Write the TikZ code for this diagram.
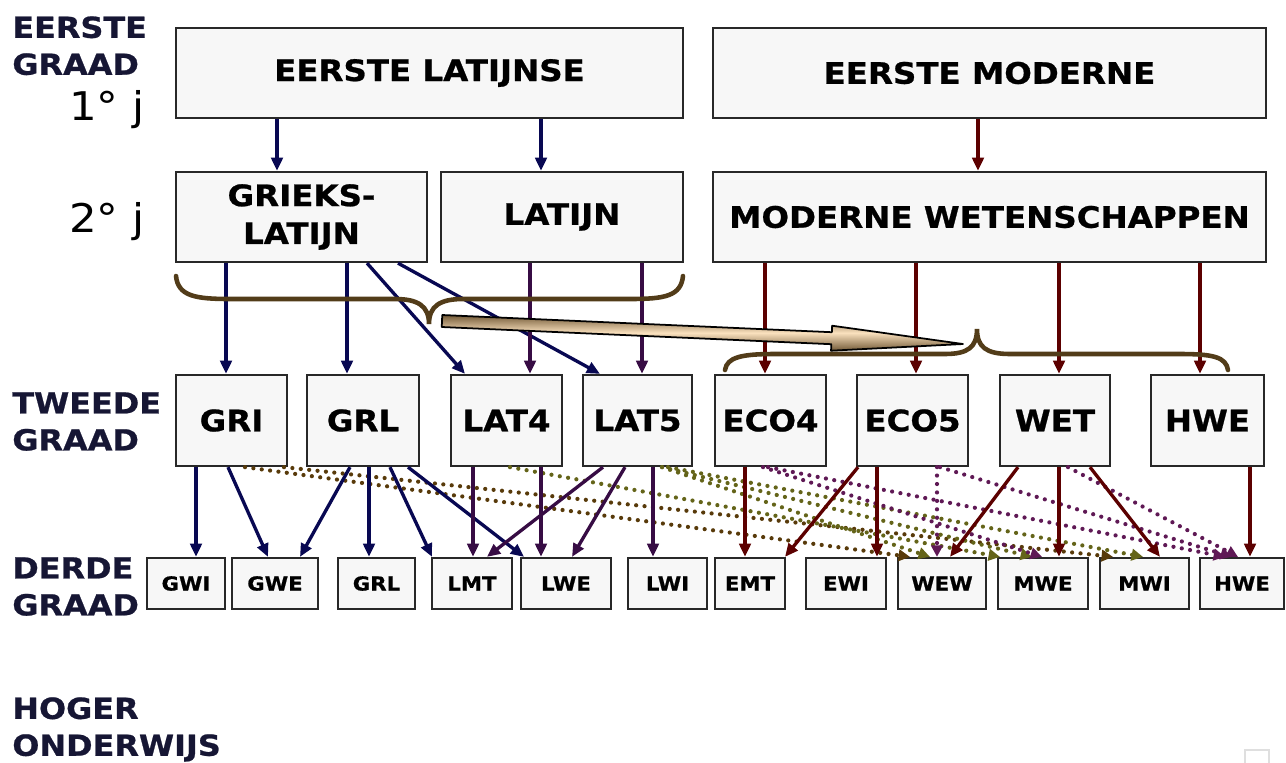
\documentclass[tikz,border=0pt]{standalone}
\usepackage{fontspec}
\setmainfont{DejaVu Sans}[FakeStretch=1.1, BoldFeatures={FakeBold=0.8}]
\usetikzlibrary{arrows.meta}

\definecolor{boxfill}{RGB}{247,247,247}
\definecolor{boxline}{RGB}{40,40,40}
\definecolor{labelblue}{RGB}{22,22,52}
\definecolor{latblue}{RGB}{8,8,82}
\definecolor{latpurple}{RGB}{55,12,68}
\definecolor{modred}{RGB}{92,0,0}
\definecolor{bracebrown}{RGB}{82,60,25}
\definecolor{dotbrown}{RGB}{88,58,10}
\definecolor{dotolive}{RGB}{100,100,25}
\definecolor{dotpurple}{RGB}{95,25,85}
\definecolor{arrowdark}{RGB}{115,90,55}
\definecolor{arrowlight}{RGB}{250,225,190}

\begin{document}
\begin{tikzpicture}
        [x=0.02cm, y=-0.02cm,
        box/.style={draw=boxline, fill=boxfill, line width=1.3pt, inner sep=0pt, align=center,
                font=\bfseries\fontsize{16.8}{21.5}\selectfont},
        big/.style={box, minimum height=1.8cm},
        vak/.style={box, minimum height=1.82cm},
        small/.style={box, minimum height=1.02cm, font=\bfseries\fontsize{11}{13}\selectfont},
        graad/.style={anchor=north west, inner sep=0pt, align=left, text=labelblue,
                font=\bfseries\fontsize{16.5}{21}\selectfont},
        jaar/.style={anchor=base east, inner sep=0pt, font=\fontsize{22.5}{26}\selectfont},
        link/.style={line width=1.9pt, -{Triangle[length=7.5pt,width=6.5pt]}},
        latin/.style={link, latblue},
        latijn/.style={link, latpurple},
        modern/.style={link, modred},
        switch/.style={line width=2.4pt, line cap=round, dash pattern=on 0pt off 4.8pt,
                -{Triangle[length=6.5pt,width=6.5pt]}},
        brace/.style={bracebrown, line width=2.6pt, line cap=round}]

        \useasboundingbox (0,0) rectangle (1286,762);

        % labels on the left
        \node[graad] (eg) at (12,16) {EERSTE\\GRAAD};
        \node[jaar] (j1) at (145,120) {1° j};
        \node[jaar] (j2) at (145,232) {2° j};
        \node[graad] (tg) at (12,392) {TWEEDE\\GRAAD};
        \node[graad] (dg) at (12,557) {DERDE\\GRAAD};
        \node[graad] (ho) at (12,697) {HOGER\\ONDERWIJS};

        % eerste graad
        \node[big, minimum width=10.14cm] (elat) at (429.5,73) {EERSTE LATIJNSE};
        \node[big, minimum width=11.06cm] (emod) at (989.5,73) {EERSTE MODERNE};
        \node[big, minimum width=5.02cm] (grlat) at (301.5,217) {GRIEKS-\\LATIJN};
        \node[big, minimum width=4.84cm] (lat) at (562,217) {LATIJN};
        \node[big, minimum width=11.06cm] (modw) at (989.5,217) {MODERNE WETENSCHAPPEN};

        % tweede graad
        \node[vak, minimum width=2.22cm] (gri) at (231.5,420.5) {GRI};
        \node[vak, minimum width=2.24cm] (grl) at (363,420.5) {GRL};
        \node[vak, minimum width=2.22cm] (lat4) at (506.5,420.5) {LAT4};
        \node[vak, minimum width=2.18cm] (lat5) at (637.5,420.5) {LAT5};
        \node[vak, minimum width=2.22cm] (eco4) at (770.5,420.5) {ECO4};
        \node[vak, minimum width=2.22cm] (eco5) at (912.5,420.5) {ECO5};
        \node[vak, minimum width=2.2cm] (wet) at (1055,420.5) {WET};
        \node[vak, minimum width=2.26cm] (hwe) at (1207.5,420.5) {HWE};

        % derde graad
        \node[small, minimum width=1.56cm] (gwi3) at (186,583.5) {GWI};
        \node[small, minimum width=1.72cm] (gwe3) at (275,583.5) {GWE};
        \node[small, minimum width=1.54cm] (grl3) at (376.5,583.5) {GRL};
        \node[small, minimum width=1.6cm] (lmt3) at (472,583.5) {LMT};
        \node[small, minimum width=1.8cm] (lwe3) at (566,583.5) {LWE};
        \node[small, minimum width=1.58cm] (lwi3) at (667.5,583.5) {LWI};
        \node[small, minimum width=1.4cm] (emt3) at (750,583.5) {EMT};
        \node[small, minimum width=1.6cm] (ewi3) at (846,583.5) {EWI};
        \node[small, minimum width=1.76cm] (wew3) at (942,583.5) {WEW};
        \node[small, minimum width=1.8cm] (mwe3) at (1043,583.5) {MWE};
        \node[small, minimum width=1.78cm] (mwi3) at (1144.5,583.5) {MWI};
        \node[small, minimum width=1.68cm] (hwe3) at (1242,583.5) {HWE};

        % faint square bottom right
        \node[draw=gray!25, fill=white, line width=1.2pt, inner sep=0pt, minimum width=0.48cm,
                minimum height=0.4cm, anchor=north west] (corner) at (1244,749) {};

        % eerste -> tweede jaar
        \draw[latin] (277,0 |- elat.south) -- (277,0 |- grlat.north);
        \draw[latin] (541,0 |- elat.south) -- (541,0 |- lat.north);
        \draw[modern] (978,0 |- emod.south) -- (978,0 |- modw.north);

        % tweede jaar -> tweede graad
        \draw[latin] (226,0 |- grlat.south) -- (226,0 |- gri.north);
        \draw[latin] (347,0 |- grlat.south) -- (347,0 |- grl.north);
        \draw[latin] (367,0 |- grlat.south) -- (465,0 |- lat4.north);
        \draw[latin] (398,0 |- grlat.south) -- (600,0 |- lat5.north);
        \draw[latijn] (530,0 |- lat.south) -- (530,0 |- lat4.north);
        \draw[latijn] (642,0 |- lat.south) -- (642,0 |- lat5.north);
        \draw[modern] (765,0 |- modw.south) -- (765,0 |- eco4.north);
        \draw[modern] (916,0 |- modw.south) -- (916,0 |- eco5.north);
        \draw[modern] (1059,0 |- modw.south) -- (1059,0 |- wet.north);
        \draw[modern] (1200,0 |- modw.south) -- (1200,0 |- hwe.north);

        % braces and the big arrow
        \draw[brace] (176,276) .. controls (178,296) and (195,299) .. (230,299) -- (395,299)
                .. controls (418,299) and (429,306) .. (429,324)
                .. controls (429,306) and (440,299) .. (463,299) -- (630,299)
                .. controls (665,299) and (681,296) .. (683,276);
        \draw[brace] (725,370) .. controls (727,357) and (742,354) .. (775,354) -- (945,354)
                .. controls (968,354) and (977,347) .. (977,329)
                .. controls (977,347) and (986,354) .. (1010,354) -- (1180,354)
                .. controls (1213,354) and (1226,357) .. (1228,370);
        \coordinate (ltip) at (442,321);
        \coordinate (rtip) at (963,344);
        \begin{scope}[shift={(ltip)}, rotate=-2.53]
        \shade[top color=arrowdark, bottom color=arrowdark, middle color=arrowlight,
                draw=black, line width=1pt, line join=round]
                (0,-6) -- (390,-6) -- (390,-12.5) -- (521.5,0) -- (390,12.5) -- (390,6) -- (0,6) -- cycle;
        \end{scope}

        % switches (dotted)
        \draw[switch, dotbrown] (245,0 |- gri.south) -- (910,0 |- wew3.north);
        \draw[switch, dotbrown] (284,0 |- gri.south) -- (1113,0 |- mwi3.north);
        \draw[switch, dotolive] (510,0 |- lat4.south) -- (1000,0 |- mwe3.north);
        \draw[switch, dotolive] (662,0 |- lat5.south) -- (930,0 |- wew3.north);
        \draw[switch, dotolive] (662,0 |- lat5.south) -- (1032,0 |- mwe3.north);
        \draw[switch, dotolive] (668,0 |- lat5.south) -- (1143,0 |- mwi3.north);
        \draw[switch, dotpurple] (763,0 |- eco4.south) -- (1042,0 |- mwe3.north);
        \draw[switch, dotpurple] (768,0 |- eco4.south) -- (1225,0 |- hwe3.north);
        \draw[switch, dotpurple] (937,0 |- eco5.south) -- (937,0 |- wew3.north);
        \draw[switch, dotpurple] (940,0 |- eco5.south) -- (1232,0 |- hwe3.north);
        \draw[switch, dotpurple] (1068,0 |- wet.south) -- (1238,0 |- hwe3.north);

        % tweede graad -> derde graad
        \draw[latin] (196,0 |- gri.south) -- (196,0 |- gwi3.north);
        \draw[latin] (228,0 |- gri.south) -- (268,0 |- gwe3.north);
        \draw[latin] (350,0 |- grl.south) -- (300,0 |- gwe3.north);
        \draw[latin] (369,0 |- grl.south) -- (369,0 |- grl3.north);
        \draw[latin] (390,0 |- grl.south) -- (432,0 |- lmt3.north);
        \draw[latin] (408,0 |- grl.south) -- (524,0 |- lwe3.north);
        \draw[latijn] (473,0 |- lat4.south) -- (473,0 |- lmt3.north);
        \draw[latijn] (541,0 |- lat4.south) -- (541,0 |- lwe3.north);
        \draw[latijn] (603,0 |- lat5.south) -- (487,0 |- lmt3.north);
        \draw[latijn] (625,0 |- lat5.south) -- (572,0 |- lwe3.north);
        \draw[latijn] (653,0 |- lat5.south) -- (653,0 |- lwi3.north);
        \draw[modern] (745,0 |- eco4.south) -- (745,0 |- emt3.north);
        \draw[modern] (858,0 |- eco5.south) -- (785,0 |- emt3.north);
        \draw[modern] (877,0 |- eco5.south) -- (877,0 |- ewi3.north);
        \draw[modern] (1018,0 |- wet.south) -- (950,0 |- wew3.north);
        \draw[modern] (1059,0 |- wet.south) -- (1059,0 |- mwe3.north);
        \draw[modern] (1090,0 |- wet.south) -- (1160,0 |- mwi3.north);
        \draw[modern] (1250,0 |- hwe.south) -- (1250,0 |- hwe3.north);

\end{tikzpicture}
\end{document}
